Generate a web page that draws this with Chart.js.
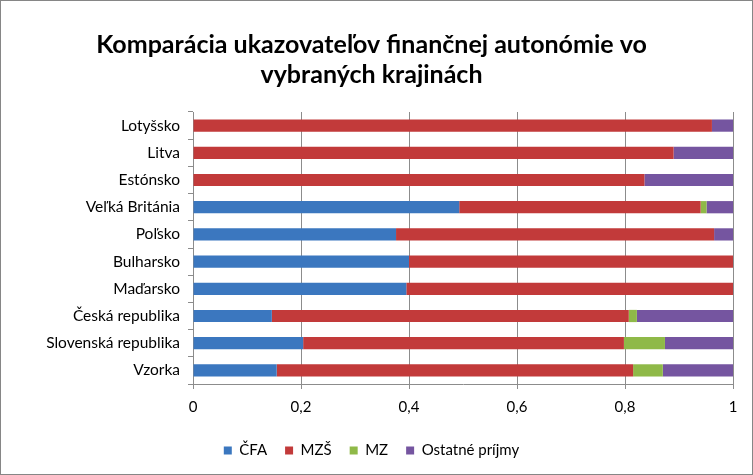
<!DOCTYPE html>
<html>
<head>
<meta charset="utf-8">
<script src="https://cdn.jsdelivr.net/npm/chart.js@4/dist/chart.umd.min.js"></script>
<style>
  html, body { margin: 0; padding: 0; background: #fff; }
  #wrap { width: 753px; height: 475px; }
</style>
</head>
<body>
<div id="wrap"><canvas id="chart" width="753" height="475"></canvas></div>
<script>
// krajiny (zhora nadol)
const countries = ["Lotyšsko", "Litva", "Estónsko", "Veľká Británia", "Poľsko",
    "Bulharsko", "Maďarsko", "Česká republika", "Slovenská republika", "Vzorka"];

const cfa     = [0,     0,     0,     0.493, 0.376, 0.400, 0.395, 0.146, 0.204, 0.155];
const mzs     = [0.961, 0.890, 0.836, 0.447, 0.589, 0.600, 0.605, 0.661, 0.594, 0.660];
const mz      = [0,     0,     0,     0.011, 0,     0,     0,     0.015, 0.076, 0.055];
const ostatne = [0.039, 0.110, 0.164, 0.049, 0.035, 0,     0,     0.178, 0.126, 0.130];

const xTicks = [0, 0.2, 0.4, 0.6, 0.8, 1];

const FONT = "Lato, 'Open Sans', sans-serif";

/* border around the whole picture */
const frame = {
    id: "frame",
    afterDraw(chart) {
        const c = chart.ctx;
        c.save();
        c.strokeStyle = "#868686";
        c.lineWidth = 1;
        c.strokeRect(0.5, 0.5, chart.width - 1, chart.height - 1);
        c.restore();
    }
};

function ds(label, data, color) {
    return {
        label,
        data,
        backgroundColor: color,
        borderWidth: 0,
        barPercentage: 0.9,
        categoryPercentage: 0.5
    };
}

new Chart(document.getElementById("chart"), {
    type: "bar",
    data: {
        labels: countries,
        datasets: [
            ds("ČFA", cfa, "#3b77bf"),
            ds("MZŠ", mzs, "#c23a3a"),
            ds("MZ", mz, "#8fb948"),
            ds("Ostatné príjmy", ostatne, "#7555a0")
        ]
    },
    options: {
        indexAxis: "y",
        responsive: false,
        animation: false,
        layout: { padding: { left: 10, right: 20, top: 0, bottom: 7 } },
        plugins: {
            title: {
                display: true,
                text: ["Komparácia ukazovateľov finančnej autonómie vo", "vybraných krajinách"],
                color: "#000",
                font: { family: FONT, size: 25, weight: "bold", lineHeight: 1.2 },
                padding: { top: 30, bottom: 22 }
            },
            legend: {
                position: "bottom",
                labels: {
                    color: "#000",
                    font: { family: FONT, size: 15 },
                    boxWidth: 8,
                    boxHeight: 8,
                    padding: 18
                }
            },
            tooltip: { enabled: false }
        },
        scales: {
            x: {
                stacked: true,
                min: 0,
                max: 1,
                afterBuildTicks: scale => {
                    scale.ticks = xTicks.map(v => ({ value: v }));
                },
                ticks: {
                    color: "#000",
                    font: { family: FONT, size: 15 },
                    padding: 9,
                    callback: v => String(v).replace(".", ",")
                },
                grid: { color: "#8c8c8c", tickLength: 5, drawTicks: true },
                border: { color: "#8c8c8c" }
            },
            y: {
                stacked: true,
                afterFit: scale => { scale.width = 183; },
                ticks: {
                    color: "#000",
                    font: { family: FONT, size: 15.5 },
                    padding: 8
                },
                grid: { offset: true, drawOnChartArea: false, tickLength: 5, color: "#8c8c8c" },
                border: { color: "#8c8c8c" }
            }
        }
    },
    plugins: [frame]
});
</script>
</body>
</html>
